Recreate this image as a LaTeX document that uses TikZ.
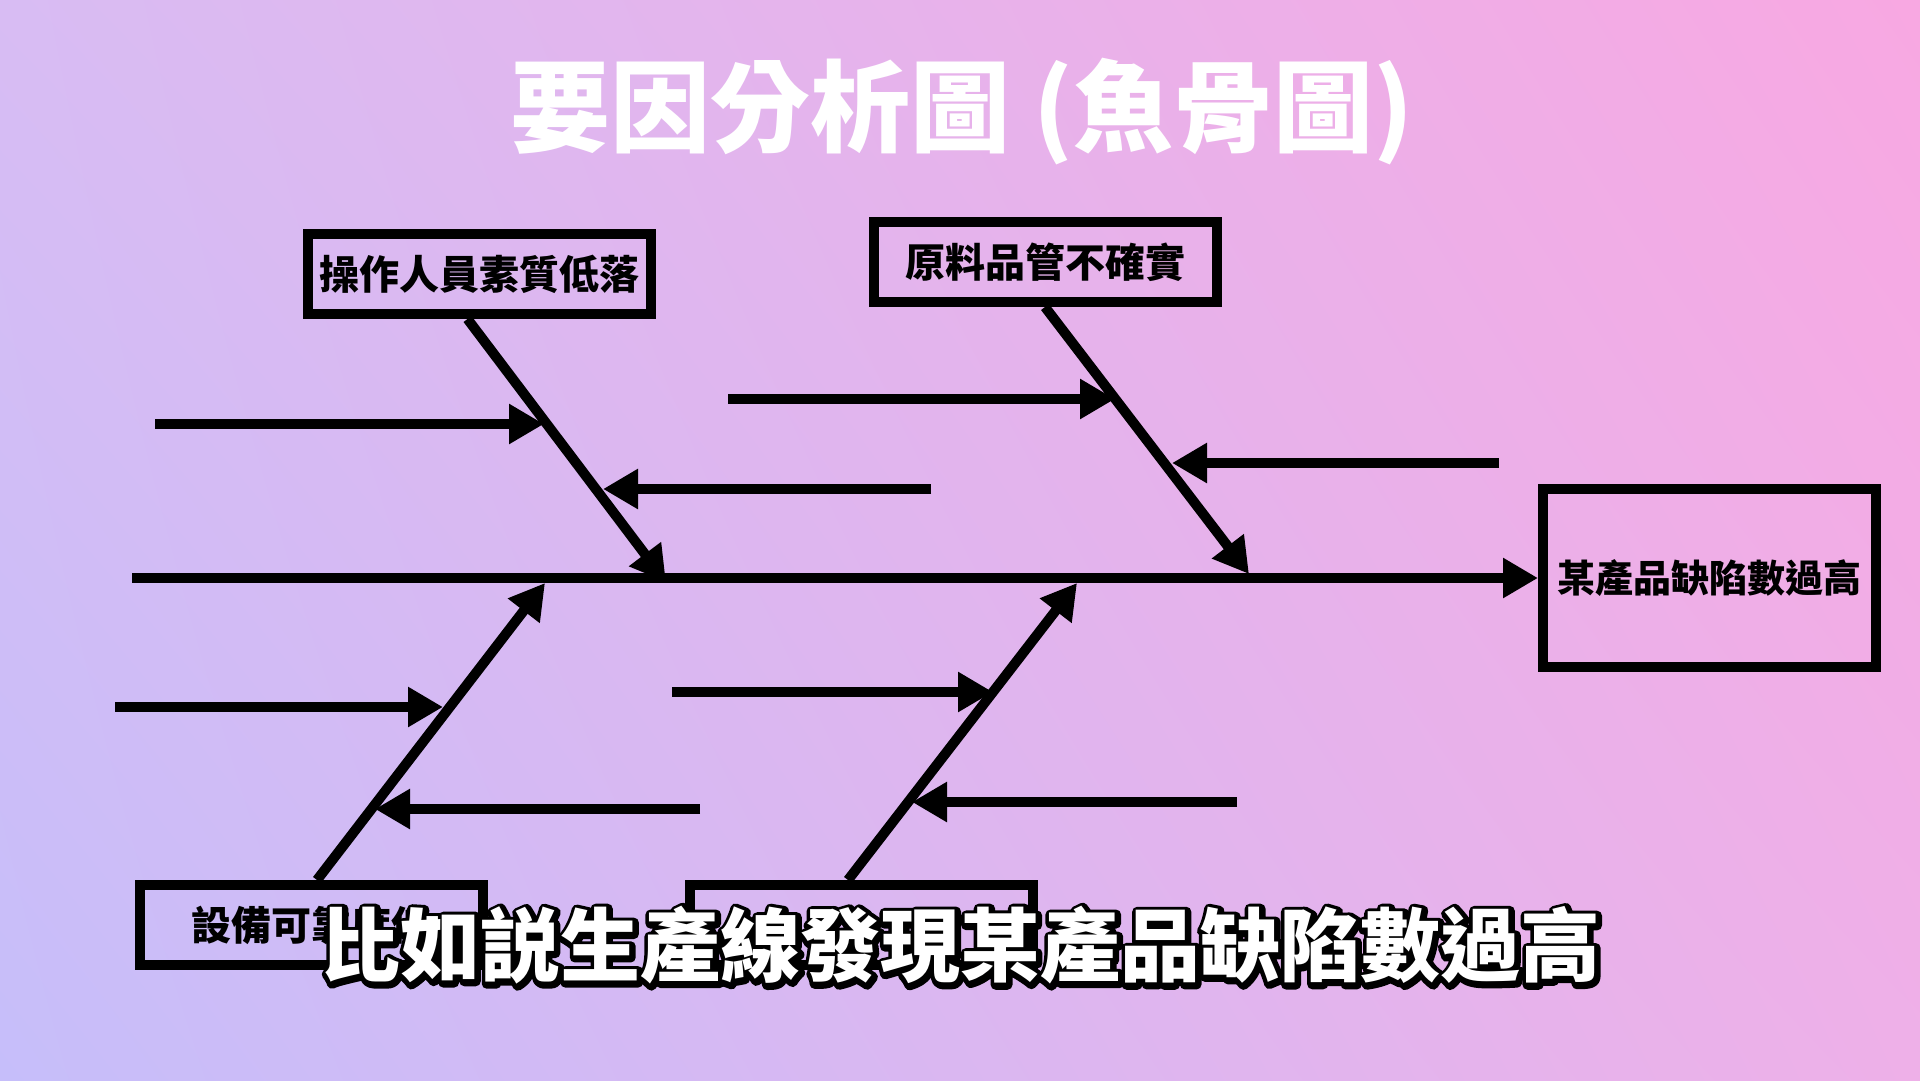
\documentclass[tikz,border=0pt]{standalone}
\usepackage{fontspec}
\newfontfamily\cjk{Noto Sans CJK TC}
\usetikzlibrary{arrows.meta,shadings}
\newcommand\setfs[1]{\fontsize{#1}{#1}\selectfont}
% outlined lettering: a black stroked copy set behind the white glyphs
\newcommand\outlined[1]{%
  \rlap{\kern1.5pt\raisebox{-1.5pt}{\special{pdf:literal direct 0 G 1 j 10 w 1 Tr}#1\special{pdf:literal direct 0 Tr}}}#1}

\definecolor{bgUL}{RGB}{216,188,243}
\definecolor{bgUR}{RGB}{248,168,226}
\definecolor{bgLL}{RGB}{198,190,250}
\definecolor{bgLR}{RGB}{238,176,232}

\tikzset{
  bone/.style={line width=10pt, -{Triangle[length=35pt,width=38pt]}},
  causebox/.style={draw, line width=10pt, minimum width=343pt, minimum height=80pt,
    inner sep=0pt, font=\cjk\bfseries\setfs{40pt}},
  effectbox/.style={draw, line width=10pt, minimum width=333pt, minimum height=178pt,
    inner sep=0pt, font=\cjk\bfseries\setfs{38pt}},
  titletext/.style={font=\cjk\bfseries\setfs{100pt}, text=white, inner sep=0pt},
  subtext/.style={font=\cjk\bfseries\setfs{80pt}, text=white, inner sep=0pt},
}

\begin{document}
\begin{tikzpicture}[x=1pt, y=-1pt]
  % page and background
  \useasboundingbox (0,0) rectangle (1920,1080);
  \shade[upper left=bgUL, upper right=bgUR, lower left=bgLL, lower right=bgLR]
    (0,0) rectangle (1920,1080);

  % heading
  \node[titletext] (title) at (962,112) {要因分析圖 (魚骨圖)};

  % effect and cause boxes
  \node[effectbox] (eff)  at (1709.5,578) {某產品缺陷數過高};
  \node[causebox]  (man)  at (479.5,274)  {操作人員素質低落};
  \node[causebox]  (mat)  at (1045,262)   {原料品管不確實};
  \node[causebox]  (mach) at (311,925)    {設備可靠度低};
  \node[causebox]  (meth) at (861,925)    {};

  % spine
  \coordinate (sp0) at (132,578);
  \draw[bone] (sp0) -- (eff.west);

  % main bones
  \coordinate (t1) at (666,582);
  \coordinate (t2) at (1249,574);
  \coordinate (t3) at (545,583);
  \coordinate (t4) at (1077,583);
  \draw[bone] ([xshift=-12pt]man.south) -- (t1);
  \draw[bone] (mat.south) -- (t2);
  \draw[bone] ([xshift=6pt]mach.north) -- (t3);
  \draw[bone] ([xshift=-13pt]meth.north) -- (t4);

  % sub-causes
  \coordinate (a1s) at (155,424);  \coordinate (a1t) at (544,424);
  \coordinate (a2s) at (931,489);  \coordinate (a2t) at (603,489);
  \coordinate (b1s) at (728,399);  \coordinate (b1t) at (1115,399);
  \coordinate (b2s) at (1499,463); \coordinate (b2t) at (1172,463);
  \coordinate (c1s) at (115,707);  \coordinate (c1t) at (443,707);
  \coordinate (c2s) at (700,809);  \coordinate (c2t) at (375,809);
  \coordinate (d1s) at (672,692);  \coordinate (d1t) at (993,692);
  \coordinate (d2s) at (1237,802); \coordinate (d2t) at (912,802);
  \foreach \s/\t in {a1s/a1t,a2s/a2t,b1s/b1t,b2s/b2t,c1s/c1t,c2s/c2t,d1s/d1t,d2s/d2t}
    \draw[bone] (\s) -- (\t);

  % caption
  \node[subtext] (caption) at (960,946) {\outlined{比如説生產線發現某產品缺陷數過高}};
\end{tikzpicture}
\end{document}
